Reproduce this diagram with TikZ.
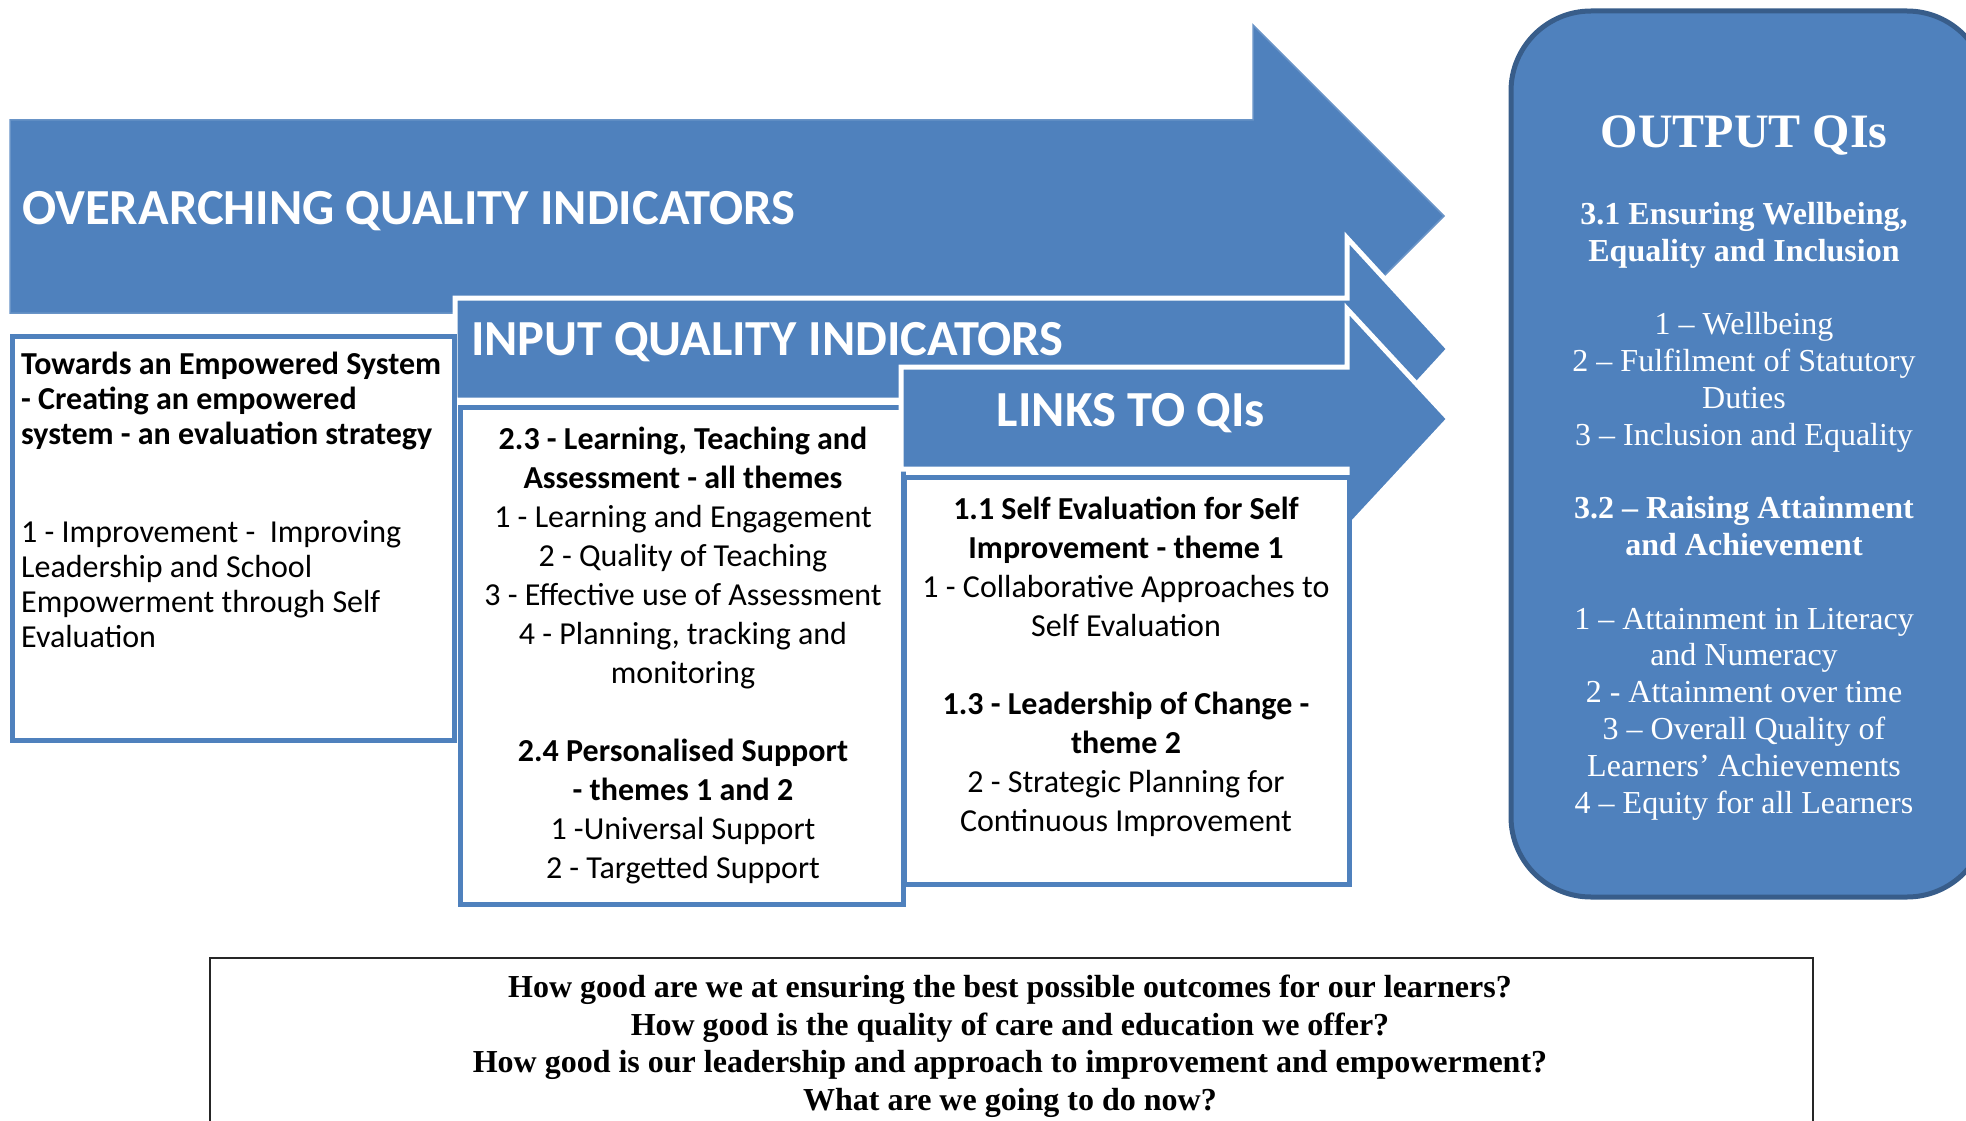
\documentclass[tikz,border=0pt]{standalone}
\usepackage{fontspec}
\setmainfont{Liberation Serif}
\newfontfamily\calfont{Carlito}
\definecolor{qiblue}{RGB}{79,129,189}
\definecolor{qidark}{RGB}{56,93,138}
\begin{document}
\begin{tikzpicture}[x=1pt,y=-1pt,
  bigarrow/.style={fill=qiblue, draw=qiblue!85!white, line width=1.5},
  subarrow/.style={fill=qiblue, draw=white, line width=5, line join=miter},
  qibox/.style={fill=white, draw=qiblue, line width=5},
  headtxt/.style={inner sep=0, text=white, font=\calfont\bfseries\fontsize{50.5}{60}\selectfont},
  lefttxt/.style={inner sep=0, align=left, font=\calfont\fontsize{32}{35}\selectfont},
  midtxt/.style={inner sep=0, align=center, font=\calfont\fontsize{32}{39}\selectfont},
  outtxt/.style={inner sep=0, align=center, text=white, font=\fontsize{32}{36.8}\selectfont},
  qtxt/.style={inner sep=0, align=center, font=\bfseries\fontsize{32}{37.4}\selectfont}]
\useasboundingbox (0,0) rectangle (1966,1121);
% overarching arrow
\draw[bigarrow] (10,120) -- (1253,120) -- (1253,25) -- (1444,216) -- (1253,407) -- (1253,313) -- (10,313) -- cycle;
\node[headtxt, anchor=base west] (over) at (22,224) {OVERARCHING QUALITY INDICATORS};
% input arrow
\draw[subarrow] (455,298) -- (1347,298) -- (1347,238) -- (1449,349) -- (1347,460) -- (1347,400) -- (455,400) -- cycle;
\node[headtxt, anchor=base west] (input) at (471,355) {INPUT QUALITY INDICATORS};
% left box
\draw[qibox] (12,336) rectangle (454,740);
\node[lefttxt, anchor=base west] (lb1) at (21,444) {\bfseries Towards an Empowered System\\\bfseries - Creating an empowered\\\bfseries system - an evaluation strategy};
\node[lefttxt, anchor=base west] (lb2) at (21,647) {1 - Improvement -~~Improving\\Leadership and School\\Empowerment through Self\\Evaluation};
% input box
\draw[qibox] (460,407) rectangle (903,904);
\node[midtxt, anchor=base] (ib) at (683,878) {\bfseries 2.3 - Learning, Teaching and\\\bfseries Assessment - all themes\\1 - Learning and Engagement\\2 - Quality of Teaching\\3 - Effective use of Assessment\\4 - Planning, tracking and\\monitoring\\[39pt]\bfseries 2.4 Personalised Support\\\bfseries - themes 1 and 2\\1 -Universal Support\\2 - Targetted Support};
% links arrow
\draw[subarrow] (901,367) -- (1347,367) -- (1347,309) -- (1449,419) -- (1347,529) -- (1347,469) -- (901,469) -- cycle;
\node[headtxt, anchor=base] (links) at (1131,426) {LINKS TO QIs};
% links box
\draw[qibox] (904,477) rectangle (1349,884);
\node[midtxt, anchor=base] (lk) at (1126,831) {\bfseries 1.1 Self Evaluation for Self\\\bfseries Improvement - theme 1\\1 - Collaborative Approaches to\\Self Evaluation\\[39pt]\bfseries 1.3 - Leadership of Change -\\\bfseries theme 2\\2 - Strategic Planning for\\Continuous Improvement};
% output box
\draw[fill=qiblue, draw=qidark, line width=5, rounded corners=80] (1511,11) rectangle (1987,897);
\node[inner sep=0, text=white, font=\bfseries\fontsize{48}{52}\selectfont, anchor=base] (outt) at (1744,148) {OUTPUT QIs};
\node[outtxt, anchor=base] (outb) at (1744,813) {\bfseries 3.1 Ensuring Wellbeing,\\\bfseries Equality and Inclusion\\[36.8pt]1 – Wellbeing\\2 – Fulfilment of Statutory\\Duties\\3 – Inclusion and Equality\\[36.8pt]\bfseries 3.2 – Raising Attainment\\\bfseries and Achievement\\[36.8pt]1 – Attainment in Literacy\\and Numeracy\\2 - Attainment over time\\3 – Overall Quality of\\Learners’ Achievements\\4 – Equity for all Learners};
% bottom box
\draw[line width=2, draw=black!85] (210,958) rectangle (1813,1135);
\node[qtxt, anchor=base] (qs) at (1010,1110) {How good are we at ensuring the best possible outcomes for our learners?\\How good is the quality of care and education we offer?\\How good is our leadership and approach to improvement and empowerment?\\What are we going to do now?};
\end{tikzpicture}
\end{document}
